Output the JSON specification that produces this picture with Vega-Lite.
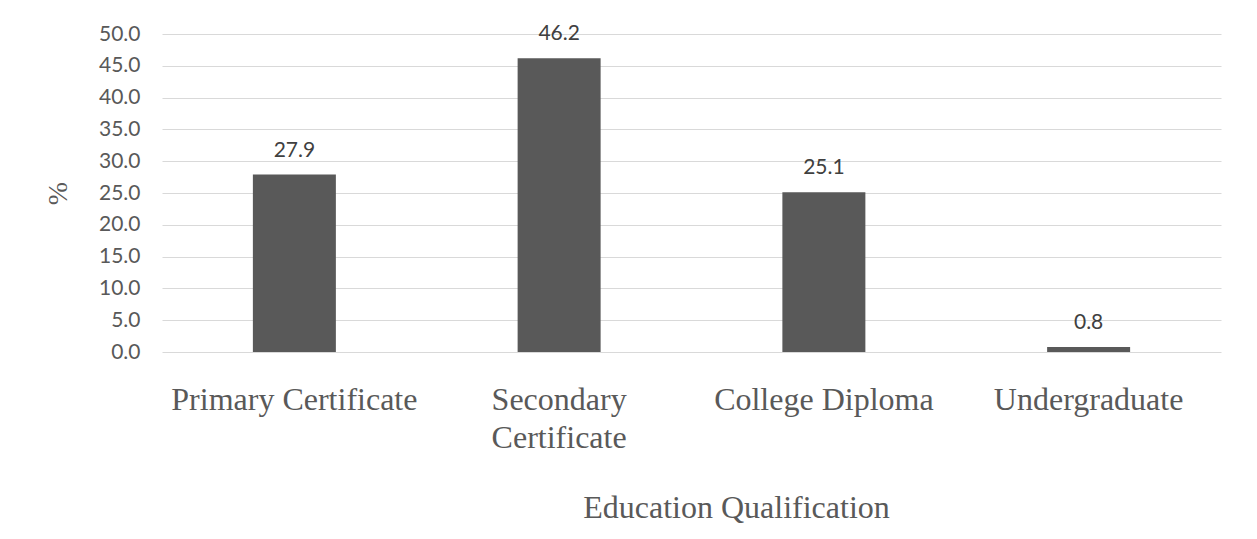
{
  "$schema": "https://vega.github.io/schema/vega-lite/v6.json",
  "autosize": {"type": "none"},
  "width": 1059,
  "height": 318,
  "padding": {"left": 162, "top": 34, "right": 36, "bottom": 187},
  "background": "white",
  "config": {
    "view": {"stroke": null},
    "axis": {"domain": false, "ticks": false}
  },
  "data": {
    "values": [
      {"qualification": "Primary Certificate", "percent": 27.9},
      {"qualification": "Secondary Certificate", "percent": 46.2},
      {"qualification": "College Diploma", "percent": 25.1},
      {"qualification": "Undergraduate", "percent": 0.8}
    ]
  },
  "encoding": {
    "x": {
      "field": "qualification",
      "type": "nominal",
      "sort": null,
      "scale": {"paddingInner": 0, "paddingOuter": 0},
      "axis": {
        "title": "Education Qualification",
        "labelAngle": 0,
        "labelFont": "Liberation Serif",
        "labelFontSize": 32,
        "labelColor": "#595959",
        "labelBaseline": "alphabetic",
        "labelPadding": 57,
        "labelLineHeight": 38,
        "labelLimit": 0,
        "labelExpr": "datum.label == 'Secondary Certificate' ? ['Secondary', 'Certificate'] : datum.label",
        "titleFont": "Liberation Serif",
        "titleFontSize": 32,
        "titleFontWeight": "normal",
        "titleColor": "#595959",
        "titleBaseline": "alphabetic",
        "titleAlign": "center",
        "titleX": 574,
        "titleY": 165
      }
    },
    "y": {
      "field": "percent",
      "type": "quantitative",
      "scale": {"domain": [0, 50], "nice": false},
      "axis": {
        "title": "%",
        "values": [0, 5, 10, 15, 20, 25, 30, 35, 40, 45, 50],
        "format": ".1f",
        "grid": true,
        "gridColor": "#d9d9d9",
        "gridWidth": 1,
        "labelFont": "Lato",
        "labelFontSize": 21,
        "labelColor": "#595959",
        "labelPadding": 22,
        "titleFont": "Liberation Serif",
        "titleFontSize": 28,
        "titleFontWeight": "normal",
        "titleColor": "#595959",
        "titleAngle": -90,
        "titleAlign": "center",
        "titleBaseline": "middle",
        "titleX": -104,
        "titleY": 159
      }
    }
  },
  "layer": [
    {
      "mark": {"type": "bar", "color": "#595959", "width": {"band": 0.3135}}
    },
    {
      "mark": {
        "type": "text",
        "font": "Lato",
        "fontSize": 21,
        "color": "#404040",
        "baseline": "alphabetic",
        "dy": -18
      },
      "encoding": {
        "text": {"field": "percent", "type": "quantitative", "format": ".1f"}
      }
    }
  ]
}
